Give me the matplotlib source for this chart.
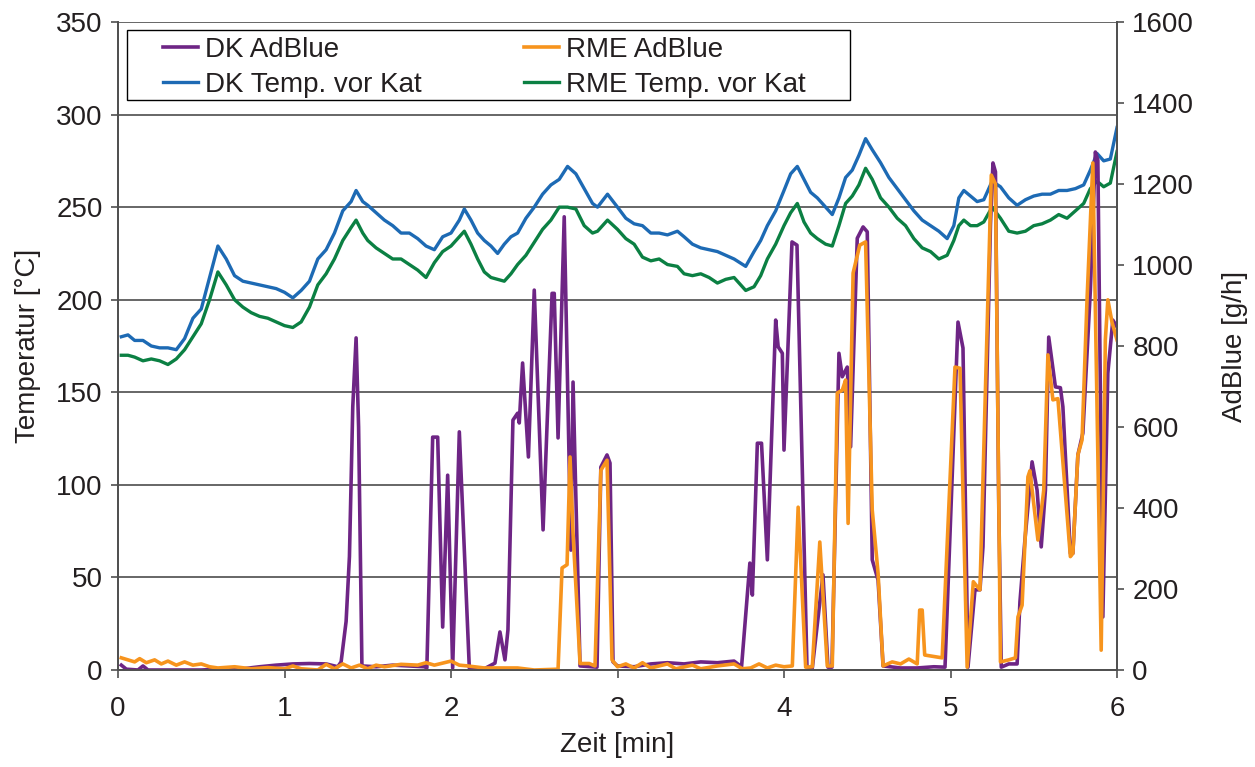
import numpy as np
import matplotlib
matplotlib.use("Agg")
from matplotlib import pyplot as plt
from matplotlib.patches import Rectangle

plt.rcParams['font.family'] = ['Liberation Sans', 'DejaVu Sans']

# temperatures before the catalyst [°C]
temp_time = [0.02, 0.06, 0.1, 0.15, 0.2, 0.25, 0.3, 0.35, 0.4, 0.45, 0.5, 0.55, 0.6, 0.65, 0.7, 0.75,
             0.8, 0.85, 0.9, 0.95, 1.0, 1.05, 1.1, 1.15, 1.2, 1.25, 1.3, 1.35, 1.4, 1.43, 1.47, 1.5,
             1.55, 1.6, 1.65, 1.7, 1.75, 1.8, 1.85, 1.9, 1.95, 2.0, 2.05, 2.08, 2.12, 2.16, 2.2, 2.24,
             2.28, 2.32, 2.36, 2.4, 2.45, 2.5, 2.55, 2.6, 2.65, 2.7, 2.75, 2.8, 2.85, 2.88, 2.94, 3.0,
             3.05, 3.1, 3.15, 3.2, 3.25, 3.3, 3.36, 3.4, 3.45, 3.5, 3.55, 3.6, 3.65, 3.7, 3.77, 3.82,
             3.86, 3.9, 3.95, 4.0, 4.04, 4.08, 4.12, 4.16, 4.2, 4.25, 4.29, 4.33, 4.37, 4.41, 4.45, 4.49,
             4.53, 4.58, 4.63, 4.68, 4.73, 4.78, 4.83, 4.88, 4.93, 4.98, 5.02, 5.05, 5.08, 5.12, 5.16, 5.2,
             5.25, 5.3, 5.35, 5.4, 5.45, 5.5, 5.55, 5.6, 5.65, 5.7, 5.75, 5.8, 5.84, 5.88, 5.92, 5.96, 6.0]
dk_temp = [180, 181, 178, 178, 175, 174, 174, 173, 179, 190, 195, 212, 229, 222, 213, 210,
           209, 208, 207, 206, 204, 201, 205, 210, 222, 227, 236, 248, 253, 259, 253, 251,
           247, 243, 240, 236, 236, 233, 229, 227, 234, 236, 243, 249, 243, 236, 232, 229,
           225, 230, 234, 236, 244, 250, 257, 262, 265, 272, 268, 260, 252, 250, 257, 250,
           244, 241, 240, 236, 236, 235, 237, 234, 230, 228, 227, 226, 224, 222, 218, 226,
           232, 240, 248, 259, 268, 272, 265, 258, 255, 250, 246, 255, 266, 270, 278, 287,
           281, 274, 266, 260, 254, 248, 243, 240, 237, 233, 240, 255, 259, 256, 253, 254,
           264, 261, 255, 251, 254, 256, 257, 257, 259, 259, 260, 262, 270, 279, 275, 276, 293]
rme_temp = [170, 170, 169, 167, 168, 167, 165, 168, 173, 180, 187, 200, 215, 208, 200, 196,
            193, 191, 190, 188, 186, 185, 188, 196, 208, 214, 222, 232, 239, 243, 236, 232,
            228, 225, 222, 222, 219, 216, 212, 220, 226, 229, 234, 237, 230, 222, 215, 212,
            211, 210, 214, 219, 224, 231, 238, 243, 250, 250, 249, 240, 236, 237, 243, 238,
            233, 230, 223, 221, 222, 219, 218, 214, 213, 214, 212, 209, 211, 212, 205, 207,
            213, 222, 230, 240, 247, 252, 242, 236, 233, 230, 229, 240, 252, 256, 262, 271,
            265, 255, 250, 244, 240, 233, 228, 226, 222, 224, 232, 240, 243, 240, 240, 242,
            250, 244, 237, 236, 237, 240, 241, 243, 246, 244, 248, 252, 260, 264, 261, 263, 280]

# AdBlue dosing [g/h]
dk_ad_time = [0.02, 0.05, 0.12, 0.15, 0.18, 0.5, 0.6, 0.75, 0.85, 0.95, 1.05, 1.15, 1.25, 1.32,
              1.34, 1.37, 1.39, 1.41, 1.43, 1.445, 1.465, 1.55, 1.65, 1.75, 1.84,
              1.855, 1.89, 1.92, 1.95, 1.98, 2.01, 2.05, 2.11, 2.2, 2.264, 2.294, 2.324, 2.342,
              2.372, 2.40, 2.41, 2.43, 2.465, 2.50, 2.553, 2.607, 2.62, 2.643, 2.68, 2.72, 2.733,
              2.775, 2.877, 2.90, 2.937, 2.955, 2.973, 3.0, 3.1, 3.2, 3.3, 3.4, 3.5, 3.6, 3.7, 3.745,
              3.795, 3.81, 3.84, 3.865, 3.90, 3.95, 3.965, 3.99, 4.0, 4.048, 4.078, 4.138, 4.17,
              4.234, 4.264, 4.288, 4.33, 4.35, 4.38, 4.40, 4.44, 4.475, 4.50, 4.53, 4.565, 4.595,
              4.7, 4.8, 4.9, 4.967, 5.045, 5.075, 5.105, 5.147, 5.177, 5.195, 5.24, 5.255, 5.27,
              5.29, 5.305, 5.35, 5.40, 5.417, 5.447, 5.49, 5.52, 5.545, 5.57, 5.59, 5.63, 5.66,
              5.675, 5.72, 5.735, 5.765, 5.795, 5.84, 5.87, 5.885, 5.915, 5.945, 5.975, 6.0]
dk_adblue = [12, 2, 0, 10, 0, 0, 2, 3, 8, 12, 15, 16, 15, 8,
             20, 120, 280, 650, 820, 600, 10, 8, 12, 10, 8,
             5, 575, 575, 106, 481, 5, 588, 5, 3, 17, 94, 25, 99,
             617, 634, 610, 758, 526, 938, 346, 930, 930, 573, 1119, 296, 711,
             10, 7, 501, 531, 511, 20, 10, 8, 15, 18, 15, 20, 18, 22, 8,
             264, 185, 560, 560, 272, 864, 798, 782, 543, 1057, 1049, 7, 5,
             235, 7, 7, 782, 724, 748, 551, 1066, 1094, 1082, 272, 222, 10,
             5, 5, 8, 7, 859, 795, 7, 198, 198, 304, 1100, 1252, 1230,
             400, 7, 15, 15, 168, 321, 514, 444, 304, 444, 822, 699, 697,
             650, 288, 288, 531, 585, 938, 1279, 1259, 131, 733, 864, 847]
rme_ad_time = [0.02, 0.06, 0.1, 0.13, 0.17, 0.22, 0.26, 0.3, 0.35, 0.4, 0.45, 0.5, 0.55, 0.6, 0.7,
               0.8, 0.9, 1.0, 1.05, 1.1, 1.2, 1.25, 1.3, 1.35, 1.4, 1.45, 1.5, 1.55, 1.6, 1.7, 1.8,
               1.85, 1.9, 2.0, 2.05, 2.1, 2.2, 2.3, 2.4, 2.5, 2.643,
               2.667, 2.697, 2.715, 2.733, 2.775, 2.83, 2.865, 2.90, 2.937, 2.967,
               3.0, 3.05, 3.1, 3.15, 3.2, 3.3, 3.35, 3.45, 3.5, 3.6, 3.7, 3.75, 3.8, 3.85, 3.9, 3.95,
               4.0, 4.05, 4.085, 4.13, 4.17, 4.215, 4.26, 4.29, 4.32, 4.35, 4.37, 4.385, 4.415,
               4.455, 4.49, 4.53, 4.565, 4.595, 4.65, 4.7, 4.75, 4.8, 4.815, 4.83, 4.845, 4.95,
               5.027, 5.057, 5.10, 5.137, 5.16, 5.177, 5.245, 5.27, 5.3, 5.35, 5.39, 5.405, 5.43,
               5.465, 5.477, 5.525, 5.56, 5.585, 5.615, 5.645, 5.72, 5.735, 5.765, 5.79, 5.82,
               5.855, 5.905, 5.93, 5.945, 5.97, 6.0]
rme_adblue = [30, 25, 20, 28, 18, 25, 15, 22, 12, 20, 12, 15, 8, 5, 8,
              3, 6, 3, 10, 3, 0, 14, 3, 15, 5, 12, 3, 12, 8, 14, 12,
              18, 12, 22, 12, 10, 5, 5, 5, 0, 2,
              252, 260, 526, 338, 16, 16, 10, 493, 518, 25,
              8, 15, 5, 18, 5, 15, 3, 12, 3, 10, 15, 3, 5, 15, 5, 12,
              8, 10, 402, 7, 8, 316, 10, 10, 684, 691, 716, 362, 980,
              1049, 1057, 395, 239, 10, 20, 15, 27, 15, 148, 148, 37, 30,
              748, 745, 7, 218, 206, 198, 1222, 1200, 20, 25, 30, 131, 160,
              477, 492, 321, 444, 778, 667, 670, 280, 288, 531, 568, 914,
              1252, 49, 815, 914, 859, 815]

c_dk_ad = '#6E2585'
c_rme_ad = '#F7941D'
c_dk_t = '#1D6AB4'
c_rme_t = '#0B8043'
frame_col = '#505050'

fig = plt.figure(figsize=(12.55, 7.67), dpi=100)
ax = fig.add_axes([118 / 1255, 97 / 767, 999 / 1255, 648 / 767])
ax2 = ax.twinx()

l_dkt, = ax.plot(temp_time, dk_temp, color=c_dk_t, lw=2.4)
l_rmet, = ax.plot(temp_time, rme_temp, color=c_rme_t, lw=2.4)
l_dka, = ax2.plot(dk_ad_time, dk_adblue, color=c_dk_ad, lw=2.6)
l_rmea, = ax2.plot(rme_ad_time, rme_adblue, color=c_rme_ad, lw=2.6)

ax.set_xlim(0, 6)
ax.set_ylim(0, 350)
ax2.set_ylim(0, 1600)
ax.set_xticks(range(0, 7))
ax.set_yticks(range(0, 351, 50))
ax2.set_yticks(range(0, 1601, 200))
ax.grid(axis='y', color='#5a5a5a', lw=1.3)
ax.set_axisbelow(True)

for a in (ax, ax2):
    for s in a.spines.values():
        s.set_color(frame_col)
        s.set_linewidth(1.3)
    a.spines['top'].set_visible(False)
    a.tick_params(direction='out', length=5, width=1.2, color=frame_col, labelsize=20, pad=6,
                  labelcolor='#231F20')
ax.tick_params(axis='x', length=6, pad=13)

ax.set_xlabel('Zeit [min]', fontsize=20, labelpad=7, color='#231F20')
ax.set_ylabel('Temperatur [°C]', fontsize=20, labelpad=11, color='#231F20')
ax2.set_ylabel('AdBlue [g/h]', fontsize=20, labelpad=20, color='#231F20')

# legend box drawn separately to match its placement
ax2.add_patch(Rectangle((9 / 999, 570 / 648), 723 / 999, 70 / 648, transform=ax2.transAxes,
                        facecolor='white', edgecolor='black', lw=1.0, zorder=5))
leg = ax2.legend([l_dka, l_dkt, l_rmea, l_rmet],
                 ['DK AdBlue', 'DK Temp. vor Kat', 'RME AdBlue', 'RME Temp. vor Kat'],
                 ncol=2, loc='upper left', bbox_to_anchor=(45 / 999, 633 / 648),
                 frameon=False, fontsize=20, borderpad=0, borderaxespad=0,
                 handlelength=1.26, handletextpad=0.25, columnspacing=3.7, labelspacing=0.33)
for t in leg.get_texts():
    t.set_color('#231F20')
leg.set_zorder(6)

fig.savefig('out.png', dpi=100)
